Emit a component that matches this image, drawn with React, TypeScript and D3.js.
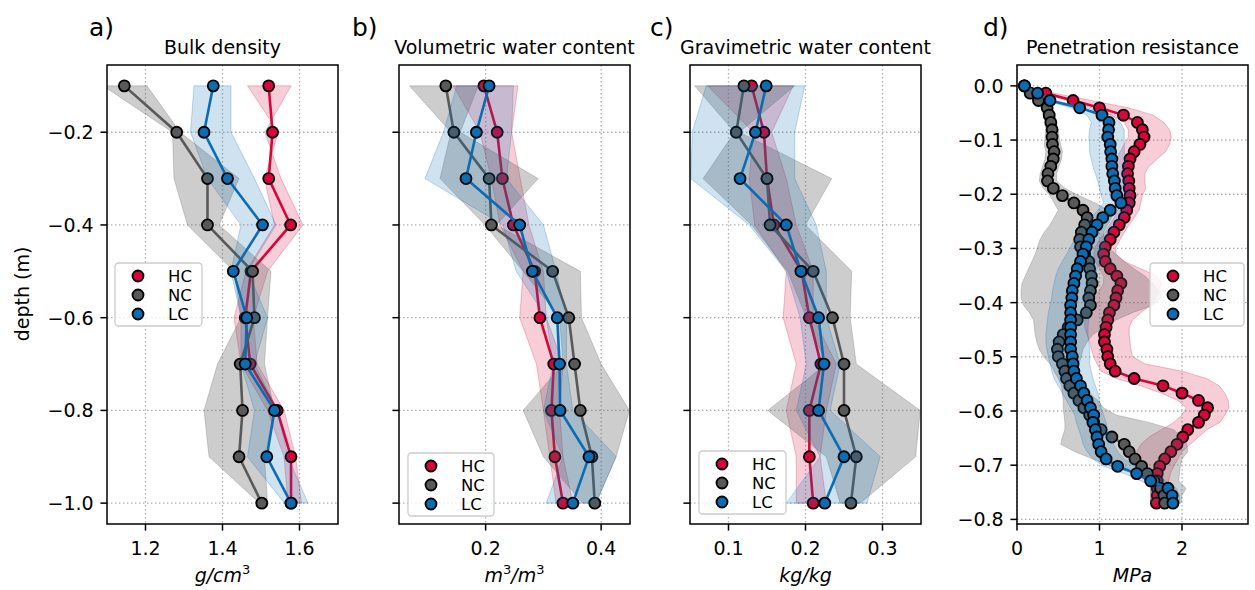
import React from "react";
import * as d3 from "d3";

// ---- data: soil profiles (panels a-c), depth in m ----
const profileDepth = [-0.1, -0.2, -0.3, -0.4, -0.5, -0.6, -0.7, -0.8, -0.9, -1.0];

// a) bulk density g/cm3
const bdHC = [1.52, 1.53, 1.52, 1.577, 1.474, 1.459, 1.472, 1.542, 1.578, 1.578];
const bdHCLo = [1.465, 1.545, 1.509, 1.535, 1.461, 1.43, 1.448, 1.517, 1.56, 1.57];
const bdHCHi = [1.578, 1.51, 1.552, 1.609, 1.517, 1.48, 1.49, 1.56, 1.59, 1.605];
const bdNC = [1.145, 1.281, 1.361, 1.361, 1.478, 1.483, 1.446, 1.452, 1.443, 1.502];
const bdNCLo = [1.09, 1.27, 1.274, 1.309, 1.43, 1.448, 1.387, 1.352, 1.365, 1.496];
const bdNCHi = [1.204, 1.29, 1.443, 1.391, 1.526, 1.517, 1.509, 1.535, 1.509, 1.517];
const bdLC = [1.376, 1.352, 1.413, 1.504, 1.428, 1.463, 1.459, 1.535, 1.515, 1.578];
const bdLCLo = [1.326, 1.317, 1.361, 1.448, 1.422, 1.448, 1.448, 1.483, 1.465, 1.561];
const bdLCHi = [1.422, 1.422, 1.483, 1.539, 1.465, 1.517, 1.483, 1.543, 1.57, 1.622];

// b) volumetric water content m3/m3
const vwHC = [0.197, 0.22, 0.229, 0.248, 0.285, 0.294, 0.318, 0.314, 0.32, 0.334];
const vwHCLo = [0.144, 0.19, 0.21, 0.225, 0.265, 0.259, 0.288, 0.3, 0.311, 0.322];
const vwHCHi = [0.256, 0.245, 0.26, 0.275, 0.3, 0.305, 0.334, 0.328, 0.334, 0.351];
const vwNC = [0.131, 0.145, 0.206, 0.21, 0.316, 0.344, 0.354, 0.364, 0.384, 0.389];
const vwNCLo = [0.068, 0.14, 0.121, 0.199, 0.265, 0.328, 0.334, 0.265, 0.3, 0.368];
const vwNCHi = [0.187, 0.156, 0.291, 0.219, 0.364, 0.366, 0.4, 0.449, 0.426, 0.391];
const vwLC = [0.206, 0.184, 0.166, 0.259, 0.281, 0.324, 0.328, 0.329, 0.379, 0.351];
const vwLCLo = [0.15, 0.127, 0.095, 0.23, 0.253, 0.305, 0.317, 0.3, 0.334, 0.305];
const vwLCHi = [0.248, 0.245, 0.236, 0.3, 0.322, 0.34, 0.34, 0.351, 0.426, 0.391];

// c) gravimetric water content kg/kg
const gwHC = [0.13, 0.146, 0.15, 0.159, 0.195, 0.205, 0.22, 0.205, 0.205, 0.21];
const gwHCLo = [0.073, 0.132, 0.127, 0.134, 0.175, 0.171, 0.188, 0.175, 0.188, 0.188];
const gwHCHi = [0.184, 0.156, 0.175, 0.188, 0.21, 0.21, 0.24, 0.227, 0.219, 0.227];
const gwNC = [0.12, 0.11, 0.15, 0.154, 0.21, 0.235, 0.25, 0.25, 0.266, 0.259];
const gwNCLo = [0.056, 0.108, 0.067, 0.13, 0.177, 0.201, 0.227, 0.151, 0.227, 0.245];
const gwNCHi = [0.186, 0.114, 0.234, 0.2, 0.26, 0.258, 0.266, 0.349, 0.343, 0.271];
const gwLC = [0.149, 0.135, 0.115, 0.175, 0.194, 0.217, 0.224, 0.217, 0.25, 0.225];
const gwLCLo = [0.071, 0.053, 0.051, 0.127, 0.175, 0.193, 0.201, 0.188, 0.219, 0.175];
const gwLCHi = [0.199, 0.186, 0.186, 0.214, 0.227, 0.227, 0.245, 0.232, 0.297, 0.28];

// d) penetration resistance MPa
const prDepth = [
  0, -0.0135, -0.027, -0.0405, -0.054, -0.0675, -0.081, -0.0945, -0.108, -0.1215,
  -0.135, -0.1485, -0.162, -0.1755, -0.189, -0.2025, -0.216, -0.2295, -0.243, -0.2565,
  -0.27, -0.2835, -0.297, -0.3105, -0.324, -0.3375, -0.351, -0.3645, -0.378, -0.3915,
  -0.405, -0.4185, -0.432, -0.4455, -0.459, -0.4725, -0.486, -0.4995, -0.513, -0.5265,
  -0.54, -0.5535, -0.567, -0.5805, -0.594, -0.6075, -0.621, -0.6345, -0.648, -0.6615,
  -0.675, -0.6885, -0.702, -0.7155, -0.729, -0.7425, -0.756, -0.77,
];
const prHC = [
  0.09, 0.35, 0.68, 1.0, 1.29, 1.46, 1.52, 1.54, 1.49, 1.42,
  1.37, 1.35, 1.34, 1.355, 1.36, 1.37, 1.36, 1.33, 1.3, 1.24,
  1.175, 1.13, 1.07, 1.05, 1.07, 1.13, 1.21, 1.26, 1.22, 1.2,
  1.175, 1.12, 1.1, 1.08, 1.06, 1.06, 1.09, 1.1, 1.13, 1.19,
  1.42, 1.77, 2.0, 2.2, 2.31, 2.27, 2.2, 2.07, 2.01, 1.94,
  1.865, 1.79, 1.73, 1.7, 1.7, 1.7, 1.7, 1.69,
];
const prHCLo = [
  0.09, 0.3, 0.6, 0.9, 1.15, 1.3, 1.35, 1.35, 1.3, 1.25,
  1.2, 1.2, 1.2, 1.22, 1.25, 1.28, 1.27, 1.22, 1.18, 1.12,
  1.07, 1.0, 0.95, 0.93, 0.95, 1.0, 1.05, 1.05, 1.0, 0.9,
  0.85, 0.82, 0.82, 0.82, 0.85, 0.88, 0.9, 0.93, 0.97, 1.02,
  1.2, 1.5, 1.75, 1.95, 2.05, 2.0, 1.9, 1.75, 1.6, 1.5,
  1.45, 1.48, 1.55, 1.58, 1.6, 1.62, 1.62, 1.62,
];
const prHCHi = [
  0.09, 0.45, 0.9, 1.35, 1.65, 1.78, 1.85, 1.87, 1.85, 1.8,
  1.7, 1.6, 1.55, 1.55, 1.56, 1.52, 1.5, 1.48, 1.42, 1.36,
  1.3, 1.25, 1.2, 1.2, 1.3, 1.5, 1.7, 1.75, 1.72, 1.68,
  1.62, 1.5, 1.4, 1.36, 1.36, 1.37, 1.38, 1.4, 1.55, 2.0,
  2.3, 2.45, 2.52, 2.56, 2.57, 2.52, 2.46, 2.3, 2.2, 2.1,
  2.0, 1.95, 1.9, 1.86, 1.84, 1.8, 1.78, 1.77,
];
const prNC = [
  0.09, 0.16, 0.26, 0.365, 0.39, 0.41, 0.425, 0.425, 0.43, 0.45,
  0.44, 0.41, 0.375, 0.37, 0.44, 0.55, 0.69, 0.8, 0.85, 0.82,
  0.78, 0.76, 0.77, 0.82, 0.87, 0.88, 0.9, 0.91, 0.89, 0.87,
  0.89, 0.84, 0.73, 0.62, 0.56, 0.51, 0.49, 0.5, 0.55, 0.58,
  0.6, 0.64, 0.69, 0.75, 0.81, 0.88, 0.93, 1.02, 1.15, 1.3,
  1.36, 1.43, 1.51, 1.58, 1.66, 1.74, 1.78, 1.79,
];
const prNCLo = [
  0.09, 0.12, 0.2, 0.3, 0.32, 0.34, 0.35, 0.34, 0.33, 0.35,
  0.34, 0.31, 0.28, 0.27, 0.32, 0.4, 0.45, 0.5, 0.45, 0.4,
  0.33, 0.28, 0.25, 0.22, 0.18, 0.14, 0.1, 0.06, 0.05, 0.05,
  0.08, 0.15, 0.2, 0.21, 0.22, 0.24, 0.27, 0.32, 0.4, 0.45,
  0.5, 0.54, 0.55, 0.56, 0.56, 0.57, 0.58, 0.58, 0.55, 0.53,
  0.7, 0.92, 1.15, 1.42, 1.58, 1.62, 1.62, 1.62,
];
const prNCHi = [
  0.09, 0.2, 0.32, 0.43, 0.46, 0.48, 0.5, 0.51, 0.53, 0.55,
  0.54, 0.51, 0.48, 0.48, 0.58, 0.75, 0.95, 1.1, 1.15, 1.1,
  1.05, 1.05, 1.1, 1.2, 1.3, 1.42, 1.55, 1.65, 1.72, 1.75,
  1.65, 1.4, 1.2, 1.05, 0.92, 0.85, 0.8, 0.78, 0.75, 0.75,
  0.76, 0.8, 0.88, 0.98, 1.05, 1.2, 1.6, 1.9, 2.0, 2.06,
  2.07, 2.0, 1.98, 1.97, 1.96, 2.05, 2.0, 1.99,
];
const prLC = [
  0.09, 0.25, 0.4, 0.76, 1.03, 1.115, 1.11, 1.1, 1.13, 1.135,
  1.15, 1.15, 1.16, 1.18, 1.19, 1.21, 1.26, 1.13, 1.04, 0.97,
  0.91, 0.87, 0.84, 0.8, 0.77, 0.73, 0.71, 0.69, 0.67, 0.665,
  0.65, 0.65, 0.65, 0.65, 0.65, 0.65, 0.65, 0.67, 0.68, 0.69,
  0.72, 0.77, 0.81, 0.85, 0.89, 0.93, 0.92, 0.95, 0.97, 0.99,
  1.02, 1.08, 1.22, 1.45, 1.62, 1.83, 1.88, 1.89,
];
const prLCLo = [
  0.09, 0.2, 0.35, 0.65, 0.85, 0.9, 0.88, 0.87, 0.88, 0.88,
  0.9, 0.92, 0.95, 0.98, 1.0, 1.02, 1.05, 0.98, 0.9, 0.82,
  0.75, 0.7, 0.65, 0.6, 0.55, 0.5, 0.47, 0.45, 0.43, 0.42,
  0.4, 0.38, 0.37, 0.36, 0.35, 0.35, 0.36, 0.38, 0.4, 0.42,
  0.45, 0.5, 0.55, 0.6, 0.65, 0.7, 0.72, 0.75, 0.78, 0.8,
  0.85, 0.92, 1.05, 1.3, 1.5, 1.7, 1.78, 1.8,
];
const prLCHi = [
  0.09, 0.3, 0.45, 0.85, 1.15, 1.25, 1.3, 1.3, 1.3, 1.3,
  1.32, 1.33, 1.33, 1.35, 1.37, 1.4, 1.42, 1.35, 1.28, 1.2,
  1.12, 1.07, 1.05, 1.02, 1.0, 0.97, 0.95, 0.93, 0.92, 0.92,
  0.9, 0.88, 0.87, 0.86, 0.86, 0.87, 0.88, 0.88, 0.88, 0.9,
  0.92, 0.95, 0.98, 1.0, 1.02, 1.05, 1.08, 1.1, 1.13, 1.17,
  1.22, 1.3, 1.45, 1.65, 1.8, 1.93, 1.97, 1.97,
];

const names = ["HC", "NC", "LC"];
const colors = ["#d6063b", "#595959", "#0b6cb2"];

const FONT = "DejaVu Sans, sans-serif";
const TOP = 65;
const BOTTOM = 524;
const PW = 231;

interface Series {
  v: number[];
  lo: number[];
  hi: number[];
}

interface PanelProps {
  id: string;
  left: number;
  xDomain: [number, number];
  xTicks: number[];
  xFmt: string;
  yDomain: [number, number];
  yTicks: number[];
  yLabels: boolean;
  depth: number[];
  series: Series[];
  title: string;
  letter: string;
  letterX: number;
  xLabel: React.ReactNode;
  legend: { x: number; y: number; w: number };
}

const Panel = (p: PanelProps) => {
  const x = d3.scaleLinear().domain(p.xDomain).range([p.left, p.left + PW]);
  const y = d3.scaleLinear().domain(p.yDomain).range([BOTTOM, TOP]);
  const idx = d3.range(p.depth.length);
  const cx = (p.left + p.left + PW) / 2;
  const fx = d3.format(p.xFmt);
  const fy = d3.format(".1f");

  return (
    <g>
      <defs>
        <clipPath id={"clip-" + p.id}>
          <rect x={p.left} y={TOP} width={PW} height={BOTTOM - TOP} />
        </clipPath>
      </defs>
      {/* grid */}
      <g stroke="#b0b0b0" strokeWidth={1.3} strokeDasharray="1.5,2.5">
        {p.xTicks.map((t) => (
          <line key={"gx" + t} x1={x(t)} x2={x(t)} y1={TOP} y2={BOTTOM} />
        ))}
        {p.yTicks.map((t) => (
          <line key={"gy" + t} x1={p.left} x2={p.left + PW} y1={y(t)} y2={y(t)} />
        ))}
      </g>
      {/* series: band, line, markers */}
      <g clipPath={`url(#clip-${p.id})`}>
        {p.series.map((s, k) => {
          const area = d3
            .area<number>()
            .y((i) => y(p.depth[i]))
            .x0((i) => x(s.lo[i]))
            .x1((i) => x(s.hi[i]));
          const line = d3
            .line<number>()
            .x((i) => x(s.v[i]))
            .y((i) => y(p.depth[i]));
          return (
            <g key={names[k]}>
              <path
                d={area(idx) || ""}
                fill={colors[k]}
                fillOpacity={k === 1 ? 0.3 : 0.2}
                stroke={colors[k]}
                strokeOpacity={0.25}
                strokeWidth={1}
              />
              <path d={line(idx) || ""} fill="none" stroke={colors[k]} strokeWidth={2.6} />
              {idx.map((i) => (
                <circle
                  key={i}
                  cx={x(s.v[i])}
                  cy={y(p.depth[i])}
                  r={5.5}
                  fill={colors[k]}
                  stroke="#000"
                  strokeWidth={1.8}
                />
              ))}
            </g>
          );
        })}
      </g>
      {/* spines */}
      <rect
        x={p.left}
        y={TOP}
        width={PW}
        height={BOTTOM - TOP}
        fill="none"
        stroke="#000"
        strokeWidth={1.5}
      />
      {/* x ticks */}
      {p.xTicks.map((t) => (
        <g key={"xt" + t}>
          <line x1={x(t)} x2={x(t)} y1={BOTTOM} y2={BOTTOM + 6.6} stroke="#000" strokeWidth={1.5} />
          <text
            x={x(t)}
            y={555}
            textAnchor="middle"
            fontSize={19}
            fontFamily={FONT}
            fill="#000"
          >
            {fx(t)}
          </text>
        </g>
      ))}
      {/* y ticks */}
      {p.yTicks.map((t) => (
        <g key={"yt" + t}>
          <line x1={p.left - 6.6} x2={p.left} y1={y(t)} y2={y(t)} stroke="#000" strokeWidth={1.5} />
          {p.yLabels && (
            <text
              x={p.left - 13.3}
              y={y(t) + 6.9}
              textAnchor="end"
              fontSize={19}
              fontFamily={FONT}
              fill="#000"
            >
              {fy(t)}
            </text>
          )}
        </g>
      ))}
      {/* titles */}
      <text x={cx} y={53.5} textAnchor="middle" fontSize={19} fontFamily={FONT} fill="#000">
        {p.title}
      </text>
      <text x={p.letterX} y={36} fontSize={25} fontFamily={FONT} fill="#000">
        {p.letter}
      </text>
      <text x={cx} y={582} textAnchor="middle" fontSize={19} fontFamily={FONT} fill="#000">
        {p.xLabel}
      </text>
      {/* legend */}
      <g transform={`translate(${p.legend.x},${p.legend.y})`}>
        <rect
          width={p.legend.w}
          height={63}
          rx={3.5}
          fill="#fff"
          fillOpacity={0.8}
          stroke="#cccccc"
          strokeWidth={1.3}
        />
        {names.map((n, k) => (
          <g key={n} transform={`translate(0,${13 + k * 19})`}>
            <circle cx={23} cy={0} r={5.5} fill={colors[k]} stroke="#000" strokeWidth={1.8} />
            <text x={53} y={6} fontSize={16.5} fontFamily={FONT} fill="#000">
              {n}
            </text>
          </g>
        ))}
      </g>
    </g>
  );
};

const profileTicks = [-0.2, -0.4, -0.6, -0.8, -1.0];
const profileDomain: [number, number] = [-1.045, -0.055];

const App = () => {
  return (
    <svg
      width={1255}
      height={590}
      style={{ position: "absolute", left: 0, top: 0, background: "#fff" }}
    >
      <rect width={1255} height={590} fill="#fff" />
      <Panel
        id="a"
        left={107}
        xDomain={[1.1, 1.7]}
        xTicks={[1.2, 1.4, 1.6]}
        xFmt=".1f"
        yDomain={profileDomain}
        yTicks={profileTicks}
        yLabels={true}
        depth={profileDepth}
        series={[
          { v: bdHC, lo: bdHCLo, hi: bdHCHi },
          { v: bdNC, lo: bdNCLo, hi: bdNCHi },
          { v: bdLC, lo: bdLCLo, hi: bdLCHi },
        ]}
        title="Bulk density"
        letter="a)"
        letterX={89}
        xLabel={
          <>
            <tspan fontStyle="italic">g/cm</tspan>
            <tspan fontSize={13} dy={-8}>3</tspan>
          </>
        }
        legend={{ x: 115, y: 263, w: 87 }}
      />
      <Panel
        id="b"
        left={399}
        xDomain={[0.05, 0.45]}
        xTicks={[0.2, 0.4]}
        xFmt=".1f"
        yDomain={profileDomain}
        yTicks={profileTicks}
        yLabels={false}
        depth={profileDepth}
        series={[
          { v: vwHC, lo: vwHCLo, hi: vwHCHi },
          { v: vwNC, lo: vwNCLo, hi: vwNCHi },
          { v: vwLC, lo: vwLCLo, hi: vwLCHi },
        ]}
        title="Volumetric water content"
        letter="b)"
        letterX={352}
        xLabel={
          <>
            <tspan fontStyle="italic">m</tspan>
            <tspan fontSize={13} dy={-8}>3</tspan>
            <tspan fontStyle="italic" dy={8}>/m</tspan>
            <tspan fontSize={13} dy={-8}>3</tspan>
          </>
        }
        legend={{ x: 408, y: 453, w: 86 }}
      />
      <Panel
        id="c"
        left={690}
        xDomain={[0.05, 0.35]}
        xTicks={[0.1, 0.2, 0.3]}
        xFmt=".1f"
        yDomain={profileDomain}
        yTicks={profileTicks}
        yLabels={false}
        depth={profileDepth}
        series={[
          { v: gwHC, lo: gwHCLo, hi: gwHCHi },
          { v: gwNC, lo: gwNCLo, hi: gwNCHi },
          { v: gwLC, lo: gwLCLo, hi: gwLCHi },
        ]}
        title="Gravimetric water content"
        letter="c)"
        letterX={650}
        xLabel={<tspan fontStyle="italic">kg/kg</tspan>}
        legend={{ x: 699, y: 451, w: 87 }}
      />
      <Panel
        id="d"
        left={1017}
        xDomain={[0, 2.8]}
        xTicks={[0, 1, 2]}
        xFmt="d"
        yDomain={[-0.8085, 0.0385]}
        yTicks={[0, -0.1, -0.2, -0.3, -0.4, -0.5, -0.6, -0.7, -0.8]}
        yLabels={true}
        depth={prDepth}
        series={[
          { v: prHC, lo: prHCLo, hi: prHCHi },
          { v: prNC, lo: prNCLo, hi: prNCHi },
          { v: prLC, lo: prLCLo, hi: prLCHi },
        ]}
        title="Penetration resistance"
        letter="d)"
        letterX={983}
        xLabel={<tspan fontStyle="italic">MPa</tspan>}
        legend={{ x: 1150, y: 263, w: 94 }}
      />
      <text
        transform="translate(29,294) rotate(-90)"
        textAnchor="middle"
        fontSize={19}
        fontFamily={FONT}
        fill="#000"
      >
        depth (m)
      </text>
    </svg>
  );
};

export default App;
